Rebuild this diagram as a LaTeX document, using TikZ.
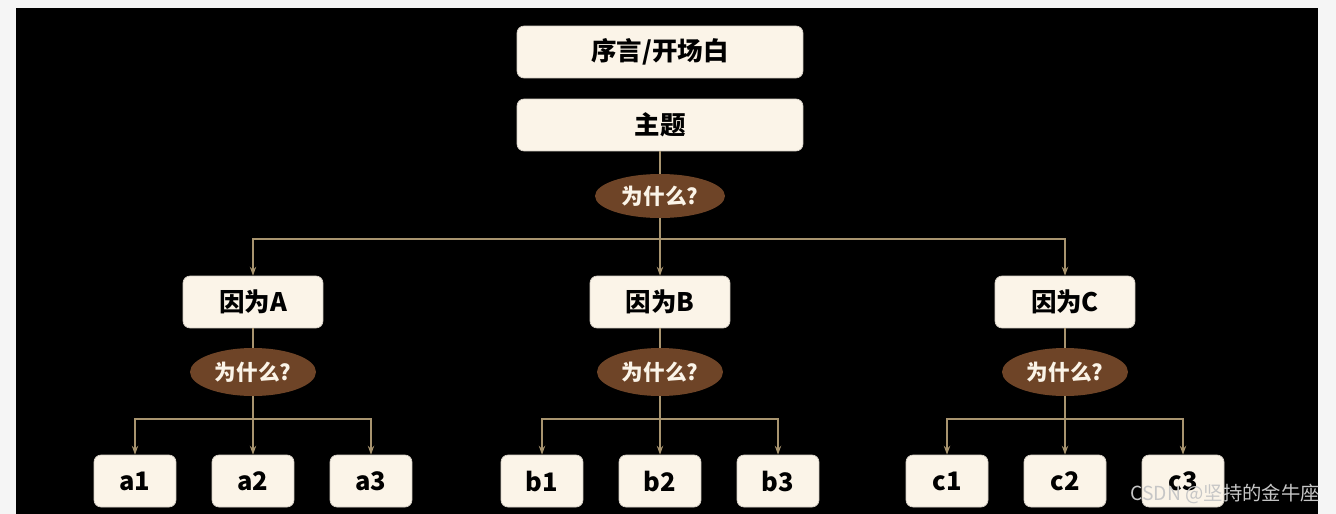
\documentclass[tikz,border=0pt]{standalone}
\usepackage{fontspec}
\setmainfont{Liberation Sans}
\newfontfamily\cjk{Noto Sans CJK SC}
\usetikzlibrary{arrows.meta, shapes.geometric}
\definecolor{pagebg}{HTML}{F5F5F5}
\definecolor{cardfill}{HTML}{FBF4E8}
\definecolor{whybrown}{HTML}{6E4427}
\definecolor{linktan}{HTML}{A8946F}
\tikzset{
  card/.style={rectangle, rounded corners=4pt, fill=cardfill, draw=cardfill!85!black, line width=0.4pt,
    text=black, font=\cjk\bfseries\fontsize{14.5}{17}\selectfont, minimum height=1.04cm, inner sep=0pt},
  topcard/.style={card, minimum width=5.72cm},
  midcard/.style={card, minimum width=2.8cm},
  leaf/.style={card, minimum width=1.64cm},
  why/.style={ellipse, fill=whybrown, text=cardfill, inner sep=0pt,
    font=\cjk\bfseries\fontsize{12.3}{14}\selectfont, minimum width=2.52cm, minimum height=0.96cm},
  link/.style={draw=linktan, line width=1pt},
  arr/.style={link, -{Stealth[length=5pt, width=3.6pt]}},
}

\begin{document}
\begin{tikzpicture}[x=0.02cm, y=-0.02cm]
  % page and dark panel
  \fill[pagebg] (0,0) rectangle (1336,514);
  \fill[black] (16,8) rectangle (1318,514);
  % top of the tree
  \node[topcard] (intro) at (660,52) {序言/开场白};
  \node[topcard] (theme) at (660,125) {主题};
  \node[why, minimum width=2.6cm, minimum height=0.88cm] (why) at (660,196) {为什么?};
  \coordinate (split) at (660,239);
  \draw[link] (theme) -- (why);
  \draw[link] (why) -- (split);
  % reasons and their details
  \foreach \n/\m/\cx in {A/a/253, B/b/660, C/c/1065}{
    \node[midcard] (r\n) at (\cx,302) {因为\n};
    \node[why] (w\n) at (\cx,372) {为什么?};
    \coordinate (s\n) at (\cx,419);
    \draw[arr] (split) -| (r\n.north);
    \draw[link] (r\n) -- (w\n);
    \draw[link] (w\n) -- (s\n);
    \foreach \k/\dx in {1/-118, 2/0, 3/118}{
      \pgfmathtruncatemacro{\lx}{\cx+\dx}
      \node[leaf] (l\n\k) at (\lx,481) {\m\k};
      \draw[arr] (s\n) -| (l\n\k.north);
    }
  }
  % watermark
  \node[anchor=east, text=gray!45, inner sep=0pt, font=\cjk\fontsize{11}{13}\selectfont] (mark) at (1320,494) {CSDN @坚持的金牛座};
\end{tikzpicture}
\end{document}
